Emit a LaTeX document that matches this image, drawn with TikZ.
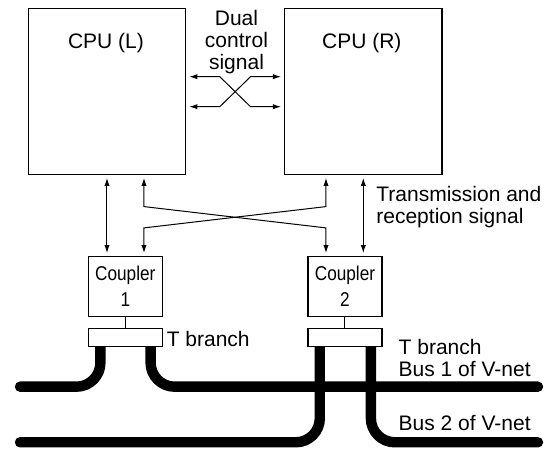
\documentclass[tikz,border=0pt]{standalone}
\usepackage{fontspec}
\setmainfont{Liberation Sans}
\newfontfamily\narrowfont[FakeStretch=0.86]{Liberation Sans}
\usetikzlibrary{arrows.meta,positioning,calc,backgrounds}

\tikzset{
  cpubox/.style={draw, line width=0.6pt, minimum width=78.7pt, minimum height=83pt, inner sep=0pt},
  cplbox/.style={draw, line width=0.6pt, minimum width=37pt, minimum height=30pt, inner sep=0pt,
    align=center, font=\narrowfont\fontsize{10pt}{13pt}\selectfont},
  tbox/.style={draw, fill=white, line width=0.6pt, minimum width=37pt, minimum height=8.65pt, inner sep=0pt},
  lbl/.style={font=\fontsize{10.5pt}{11pt}\selectfont, inner sep=0pt},
  dblarrow/.style={{Latex[length=4pt,width=2.6pt]}-{Latex[length=4pt,width=2.6pt]},
    line width=0.5pt, shorten <=1.5pt, shorten >=1.5pt},
  bus/.style={line width=5.2pt, line cap=round, rounded corners=12pt},
}

\begin{document}
\begin{tikzpicture}[x=0.5pt,y=-0.5pt]
      \useasboundingbox (0,0) rectangle (554,449);

      % CPUs
      \node[cpubox] (cpuL) at (107,91.3) {};
      \node[cpubox] (cpuR) at (363.3,91.3) {};
      \node[lbl, anchor=base] (cpuLname) at ($(cpuL.north)+(-1,40.7)$) {CPU (L)};
      \node[lbl, anchor=base] (cpuRname) at ($(cpuR.north)+(-1.5,40.7)$) {CPU (R)};

      % Dual control signal
      \node[lbl, align=center, anchor=north] (dualname) at (236.5,9.5) {Dual\\control\\signal};
      \coordinate (dualTop) at ($(cpuL.east)+(0,-14.6)$);
      \coordinate (dualBot) at ($(cpuL.east)+(0,15.4)$);
      \draw[dblarrow] (dualTop) -- ++(33.5,0) -- ++(30.7,30) -- (cpuR.west |- dualBot);
      \draw[dblarrow] (dualBot) -- ++(33.5,0) -- ++(30.7,-30) -- (cpuR.west |- dualTop);

      % Couplers and T branches
      \node[cplbox] (cplA) at (125.3,286.7) {Coupler\\1};
      \node[cplbox] (cplB) at (345,286.7) {Coupler\\2};
      \node[tbox, below=5.5pt of cplA] (tbA) {};
      \node[tbox, below=5.5pt of cplB] (tbB) {};
      \draw[line width=0.5pt] (cplA) -- (tbA);
      \draw[line width=0.5pt] (cplB) -- (tbB);

      % Transmission and reception
      \draw[dblarrow] (cpuL.south) -- (cpuL.south |- cplA.north);
      \draw[dblarrow] (cpuR.south) -- (cpuR.south |- cplB.north);
      \coordinate (xLtop) at ($(cpuL.south)+(37,0)$);
      \coordinate (xRtop) at ($(cpuR.south)+(-37.3,0)$);
      \draw[dblarrow] (xLtop) -- ++(0,31.7) -- ($(xRtop)+(0,53)$) -- (xRtop |- cplB.north);
      \draw[dblarrow] (xRtop) -- ++(0,31.7) -- ($(xLtop)+(0,53)$) -- (xLtop |- cplA.north);
      \node[lbl, align=left, anchor=north west] (trxname) at (376,186.3) {Transmission and\\reception signal};

      % Buses of V-net
      \coordinate (busAwest) at (20,386.7);
      \coordinate (busAeast) at (538,386.7);
      \coordinate (busBwest) at (20,442.3);
      \coordinate (busBeast) at (538,442.3);
      \begin{scope}[on background layer]
        \draw[bus] ($(tbA.south west)+(12.7,0)$) |- (busAwest);
        \draw[bus] ($(tbA.south east)+(-12.3,0)$) |- (busAeast);
        \draw[bus] ($(tbB.south west)+(12.4,0)$) |- (busBwest);
        \draw[bus] ($(tbB.south east)+(-11.7,0)$) |- (busBeast);
      \end{scope}

      \node[lbl, anchor=base west] (tbAname) at ($(tbA.south east)+(3.5,0)$) {T branch};
      \node[lbl, align=left, anchor=north west] (tbBname) at (398.3,339) {T branch\\Bus 1 of V-net};
      \node[lbl, anchor=base west] (busBname) at (398.3,431) {Bus 2 of V-net};
\end{tikzpicture}
\end{document}
